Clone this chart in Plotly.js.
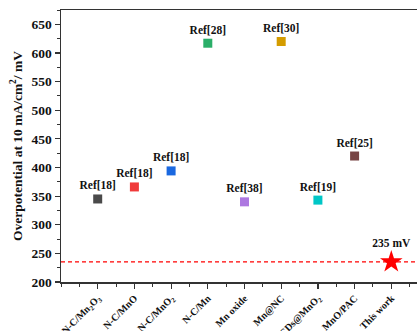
<!DOCTYPE html>
<html><head><meta charset="utf-8">
<script src="https://cdn.plot.ly/plotly-3.0.1.min.js"></script>
<style>html,body{margin:0;padding:0;overflow:hidden;background:#fff;width:417px;height:331px}</style>
</head><body><div id="chart"></div>
<script>
const categories = ["N-C/Mn<sub>2</sub>O<sub>3</sub>","N-C/MnO","N-C/MnO<sub>2</sub>","N-C/Mn","Mn oxide","Mn@NC","CDs@MnO<sub>2</sub>","MnO/PAC","This work"];
const overpotential = [345, 366, 394, 617, 340, 620, 343, 420, 235];
const refLabels = ["Ref[18]","Ref[18]","Ref[18]","Ref[28]","Ref[38]","Ref[30]","Ref[19]","Ref[25]","235 mV"];
const colors = ["#4a4a4a","#f03a3a","#1a68e0","#2aae68","#ad78e0","#d49c00","#00c6c6","#774343","#ff0000"];
const symbols = ["square","square","square","square","square","square","square","square","star"];
const sizes = [9,9,9,9,9,9,9,9,17];

const xs = categories.map((c,i)=>i);
const F = "Liberation Serif, Times New Roman, serif";
const traces = [{
  x: xs, y: overpotential, mode: "markers+text", type: "scatter",
  text: refLabels, textposition: "top center",
  textfont: {family: F, size: 11.5, color: "#111", weight: "bold"},
  marker: {symbol: symbols, color: colors, size: sizes, opacity: 1, line: {width: 0}},
  opacity: 1,
  cliponaxis: false, hoverinfo: "none"
}];
const thisWork = overpotential[overpotential.length-1];
const layout = {
  width: 432, height: 331,
  margin: {l: 61, r: 4, t: 10, b: 49},
  paper_bgcolor: "#fff", plot_bgcolor: "#fff",
  showlegend: false,
  font: {family: F, color: "#111"},
  xaxis: {
    range: [-1, 9], tickvals: xs, ticktext: categories, tickangle: -45,
    tickfont: {family: F, size: 10, color: "#111", weight: "bold"},
    ticks: "outside", ticklen: 5, tickwidth: 1.2, tickcolor: "#333",
    minor: {dtick: 0.5, tick0: 0, ticks: "outside", ticklen: 3, tickwidth: 1, tickcolor: "#333"},
    showline: true, linecolor: "#333", linewidth: 1.5, mirror: true,
    showgrid: false, zeroline: false
  },
  yaxis: {
    range: [200, 675], tickvals: [200,250,300,350,400,450,500,550,600,650],
    tickfont: {family: F, size: 13.5, color: "#111", weight: "bold"},
    ticks: "outside", ticklen: 5, tickwidth: 1.2, tickcolor: "#333",
    minor: {dtick: 25, ticks: "outside", ticklen: 3, tickwidth: 1, tickcolor: "#333"},
    showline: true, linecolor: "#333", linewidth: 1.5, mirror: true,
    showgrid: false, zeroline: false,
    title: {text: "Overpotential at 10 mA/cm<sup>2</sup>/ mV", font: {family: F, size: 13.5, color: "#111", weight: "bold"}, standoff: 6}
  },
  shapes: [{type: "line", xref: "paper", x0: 0, x1: 1, yref: "y", y0: thisWork, y1: thisWork,
    line: {color: "#ff0000", width: 1.3, dash: "4px,3px"}, layer: "below"}]
};
Plotly.newPlot("chart", traces, layout, {staticPlot: true, displayModeBar: false});
</script></body></html>
